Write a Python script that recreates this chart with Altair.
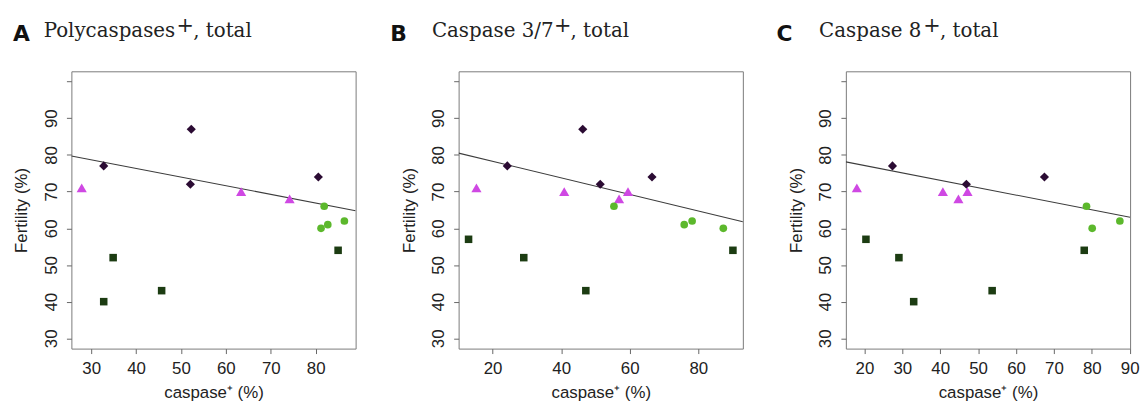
import altair as alt
import pandas as pd

# ---------------- data ----------------
GROUPS = ["diamond", "triangle", "circle", "square"]
GROUP_SHAPES = ["diamond", "triangle-up", "circle", "square"]
GROUP_COLORS = ["#2b0b33", "#cf48e3", "#5cb82c", "#1c3c12"]
GROUP_SIZES = [85, 105, 60, 58]

# Panel A: Polycaspases+, total
A_diamond_x = [32.8, 52.3, 52.1, 80.6]
A_diamond_y = [77, 87, 72, 74]
A_triangle_x = [27.9, 63.4, 74.2]
A_triangle_y = [71, 70, 68]
A_circle_x = [81.9, 81.2, 82.7, 86.4]
A_circle_y = [66, 60, 61, 62]
A_square_x = [34.9, 32.8, 45.7, 85.0]
A_square_y = [52, 40, 43, 54]
A_fit_x = [25.6, 88.9]
A_fit_y = [79.7, 64.8]
A_xdomain = [25.6, 88.9]
A_xticks = [30, 40, 50, 60, 70, 80]

# Panel B: Caspase 3/7+, total
B_diamond_x = [24.3, 46.3, 51.4, 66.5]
B_diamond_y = [77, 87, 72, 74]
B_triangle_x = [15.3, 40.9, 56.9, 59.5]
B_triangle_y = [71, 70, 68, 70]
B_circle_x = [55.4, 75.9, 78.2, 87.3]
B_circle_y = [66, 61, 62, 60]
B_square_x = [13.0, 29.1, 47.2, 90.1]
B_square_y = [57, 52, 43, 54]
B_fit_x = [10.1, 93.0]
B_fit_y = [80.5, 61.8]
B_xdomain = [10.1, 93.0]
B_xticks = [20, 40, 60, 80]

# Panel C: Caspase 8+, total
C_diamond_x = [27.4, 46.9, 67.5]
C_diamond_y = [77, 72, 74]
C_triangle_x = [18.0, 40.7, 44.8, 47.2]
C_triangle_y = [71, 70, 68, 70]
C_circle_x = [78.6, 80.1, 87.4]
C_circle_y = [66, 60, 62]
C_square_x = [20.4, 29.1, 33.0, 53.7, 78.0]
C_square_y = [57, 52, 40, 43, 54]
C_fit_x = [15.1, 90.1]
C_fit_y = [78.1, 63.0]
C_xdomain = [15.1, 90.1]
C_xticks = [20, 30, 40, 50, 60, 70, 80, 90]

Y_DOMAIN = [27.2, 102.8]
Y_TICKS = [30, 40, 50, 60, 70, 80, 90, 100]

TITLE_LETTERS = ["A", "B", "C"]
TITLE_HEADS = ["Polycaspases", "Caspase 3/7", "Caspase 8"]
TITLE_SUP = "+"
TITLE_TAIL = ", total"
X_TITLE = "caspase\u207a (%)"
Y_TITLE = "Fertility (%)"

# title piece offsets relative to the plot's left edge (layout only)
LETTER_DX = [-59, -69, -70]
HEAD_DX = [-28, -27, -27]
SUP_DX = [115, 105, 87]
TAIL_DX = [123, 113, 95]

W, H = 287, 280
TEXT = "#222222"
SERIF = "DejaVu Serif"


def frame(xs, ys):
    rows = []
    for g, xv, yv in zip(GROUPS, xs, ys):
        for a, b in zip(xv, yv):
            rows.append({"x": a, "y": b, "group": g})
    return pd.DataFrame(rows)


def panel(i, df, fit_x, fit_y, xdom, xticks):
    xs = alt.Scale(domain=xdom, nice=False, zero=False)
    ys = alt.Scale(domain=Y_DOMAIN, nice=False, zero=False)
    xaxis = alt.Axis(values=xticks, title=X_TITLE, labelOverlap=False,
                     labelFlush=False, labelPadding=7, titlePadding=8)
    yaxis = alt.Axis(values=Y_TICKS, title=Y_TITLE, labelOverlap=False,
                     labelFlush=False, labelAngle=270, labelAlign="center",
                     labelBaseline="alphabetic", labelPadding=10,
                     titlePadding=12,
                     labelExpr="datum.value == 100 ? '' : datum.label")
    X = alt.X("x:Q", scale=xs, axis=xaxis)
    Y = alt.Y("y:Q", scale=ys, axis=yaxis)
    fit = alt.Chart(pd.DataFrame({"x": fit_x, "y": fit_y})).mark_line(
        color="#3c3c3c", strokeWidth=1.1, clip=True
    ).encode(x=X, y=Y)
    layers = [fit]
    for g, shp, col, sz in zip(GROUPS, GROUP_SHAPES, GROUP_COLORS, GROUP_SIZES):
        layers.append(
            alt.Chart(df).transform_filter(alt.datum.group == g).mark_point(
                filled=True, opacity=1, strokeWidth=0, shape=shp, color=col, size=sz
            ).encode(x=X, y=Y)
        )
    letter = alt.Chart(pd.DataFrame({"t": [TITLE_LETTERS[i]]})).mark_text(
        font="DejaVu Sans", fontWeight="bold", fontSize=22, align="left",
        baseline="alphabetic", color="#111111"
    ).encode(x=alt.value(LETTER_DX[i]), y=alt.value(-31), text="t:N")
    head = alt.Chart(pd.DataFrame({"t": [TITLE_HEADS[i]]})).mark_text(
        font=SERIF, fontSize=20, align="left",
        baseline="alphabetic", color=TEXT
    ).encode(x=alt.value(HEAD_DX[i]), y=alt.value(-34.5), text="t:N")
    sup = alt.Chart(pd.DataFrame({"t": [TITLE_SUP]})).mark_text(
        font=SERIF, fontSize=21, align="center",
        baseline="middle", color=TEXT
    ).encode(x=alt.value(SUP_DX[i]), y=alt.value(-45.5), text="t:N")
    tail = alt.Chart(pd.DataFrame({"t": [TITLE_TAIL]})).mark_text(
        font=SERIF, fontSize=20, align="left",
        baseline="alphabetic", color=TEXT
    ).encode(x=alt.value(TAIL_DX[i]), y=alt.value(-34.5), text="t:N")
    layers += [letter, head, sup, tail]
    return alt.layer(*layers).properties(width=W, height=H)


pA = panel(0, frame([A_diamond_x, A_triangle_x, A_circle_x, A_square_x],
                    [A_diamond_y, A_triangle_y, A_circle_y, A_square_y]),
           A_fit_x, A_fit_y, A_xdomain, A_xticks)
pB = panel(1, frame([B_diamond_x, B_triangle_x, B_circle_x, B_square_x],
                    [B_diamond_y, B_triangle_y, B_circle_y, B_square_y]),
           B_fit_x, B_fit_y, B_xdomain, B_xticks)
pC = panel(2, frame([C_diamond_x, C_triangle_x, C_circle_x, C_square_x],
                    [C_diamond_y, C_triangle_y, C_circle_y, C_square_y]),
           C_fit_x, C_fit_y, C_xdomain, C_xticks)

chart = alt.hconcat(pA, pB, pC, spacing=104, bounds="flush").properties(
    padding={"left": 4, "top": 5, "right": 0, "bottom": 0}
).configure_view(
    stroke="#7a7a7a", strokeWidth=1
).configure_axis(
    domain=False, grid=False, tickColor="#666666", tickWidth=1, tickSize=5,
    labelFont="Liberation Sans", labelFontSize=17, labelColor=TEXT,
    titleFont="Liberation Sans", titleFontSize=17, titleColor=TEXT,
    titleFontWeight="normal"
)

chart.save("out.html", embed_options={"renderer": "svg", "actions": False})
